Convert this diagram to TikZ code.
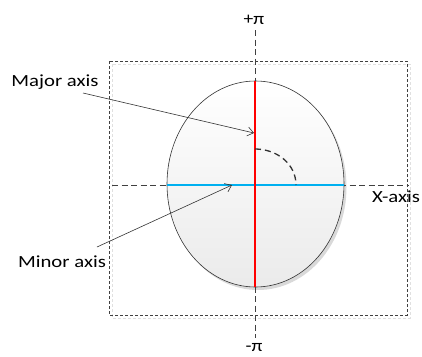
\documentclass[tikz,border=0pt]{standalone}
\usepackage{fontspec}
\usepackage{graphicx}
\setmainfont{Carlito}
\usetikzlibrary{arrows.meta}
\definecolor{minorblue}{RGB}{0,176,240}
\begin{document}
\begin{tikzpicture}[x=1pt,y=-1pt,
  lbl/.style={font=\fontsize{17}{20}\selectfont, inner sep=0pt, anchor=base},
  axisline/.style={dash pattern=on 6pt off 3.5pt, draw=black!75, line width=0.6pt},
  frame/.style={dash pattern=on 3pt off 2pt, draw=black!75, line width=0.6pt},
  shadowline/.style={dash pattern=on 3pt off 2pt, draw=black!12, line width=1pt},
  pointer/.style={draw=black!80, line width=0.6pt, -{Straight Barb[length=6pt,width=9pt]}},
  majorline/.style={draw=red, line width=2.2pt},
  minorline/.style={draw=minorblue, line width=2.2pt},
  anglearc/.style={draw=black!80, line width=1.3pt, dash pattern=on 6pt off 4pt}
]
\useasboundingbox (0,0) rectangle (422,356);
% frame with shadow
\draw[shadowline] (112,64) rectangle (410,318);
\draw[frame] (109,61) rectangle (407,315);
% ellipse with shadow
\fill[black!15] (258,187) ellipse [x radius=88.5, y radius=103];
\draw[black!80, line width=0.6pt, top color=white, bottom color=black!8] (255.5,184) ellipse [x radius=88.5, y radius=103];
% axes
\coordinate (vt) at (255,30);
\coordinate (vb) at (255,338);
\coordinate (hl) at (112,185);
\coordinate (hr) at (409,185);
\draw[axisline] (vt) -- (vb);
\draw[axisline] (hl) -- (hr);
% minor and major axes
\coordinate (bl) at (167,185);
\coordinate (br) at (344,185);
\coordinate (rt) at (255,81);
\coordinate (rb) at (255,287);
\draw[minorline] (bl) -- (br);
\draw[majorline] (rt) -- (rb);
% angle arc
\coordinate (a1) at (255,149);
\coordinate (a2) at (296,185);
\draw[anglearc] (a1) .. controls (277,149) and (296,164) .. (a2);
% labels
\node[lbl] (plus) at (254,24) {\scalebox{1.15}[1]{+π}};
\node[lbl] (minus) at (254,351) {\scalebox{1.15}[1]{-π}};
\node[lbl] (major) at (55,86) {\scalebox{1.22}[1]{Major axis}};
\node[lbl] (minor) at (62,267) {\scalebox{1.22}[1]{Minor axis}};
\node[lbl] (xaxis) at (396,202) {\scalebox{1.22}[1]{X-axis}};
% pointers
\coordinate (ms) at (83,93);
\coordinate (me) at (254,133);
\coordinate (ns) at (97,247);
\coordinate (ne) at (232,185);
\draw[pointer] (ms) -- (me);
\draw[pointer] (ns) -- (ne);
\end{tikzpicture}
\end{document}
